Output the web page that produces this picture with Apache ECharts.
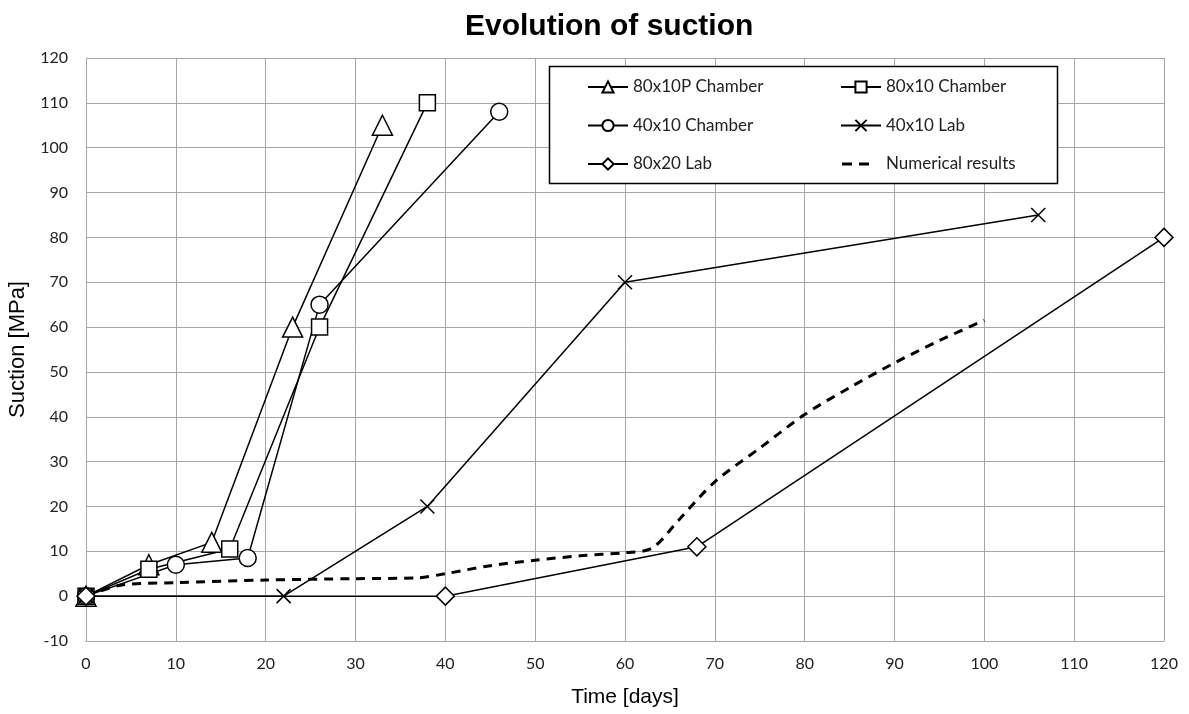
<!DOCTYPE html>
<html>
<head>
<meta charset="utf-8">
<script src="https://cdn.jsdelivr.net/npm/echarts@6/dist/echarts.min.js"></script>
<style>
  html, body { margin: 0; padding: 0; background: #fff; }
  #chart1 { width: 1189px; height: 714px; }
</style>
</head>
<body>
<div id="chart1"></div>
<script>
    // data: [time (days), suction (MPa)]
    var p80x10P = [[0, 0], [7, 7], [14, 12], [23, 60], [33, 105]];
    var p80x10 = [[0, 0], [7, 6], [16, 10.5], [26, 60], [38, 110]];
    var p40x10C = [[0, 0], [10, 7], [18, 8.5], [26, 65], [46, 108]];
    var p40x10L = [[0, 0], [22, 0], [38, 20], [60, 70], [106, 85]];
    var p80x20L = [[0, 0], [40, 0], [68, 11], [120, 80]];
    var numerical = [[0, 0], [4, 2.5], [10, 3], [20, 3.6], [30, 3.9], [37, 4.1], [40, 5],
        [45, 6.8], [50, 8], [55, 9], [60, 9.7], [63, 10.7], [66, 17], [70, 25.5], [75, 33],
        [80, 40.5], [85, 46.5], [90, 52], [95, 57], [100, 61.5]];

    var crossPath = 'path://M0,0L10,10M10,0L0,10';
    // two short dashes for the legend, with tiny corner dots so the box stays 40x14
    var dashIcon = 'path://M0,0h0.01v0.01h-0.01zM40,14h0.01v0.01h-0.01zM1,5.5h10v3h-10zM18,5.5h10v3h-10z';
    var tickFont = 'Lato, "Liberation Sans", sans-serif';
    var nameFont = '"Liberation Sans", Arial, sans-serif';

    function expSeries(name, data, symbol, size) {
        return {
            name: name,
            type: 'line',
            data: data,
            symbol: symbol,
            symbolSize: size,
            showAllSymbol: true,
            lineStyle: { color: '#000', width: 1.5 },
            itemStyle: { color: '#fff', borderColor: '#000', borderWidth: 1.5 },
            emphasis: { disabled: true },
            z: 3
        };
    }

    var legendText = { fontFamily: tickFont, fontSize: 17, color: '#222', lineHeight: 20 };

    var option = {
        animation: false,
        backgroundColor: '#fff',
        title: {
            text: 'Evolution of suction',
            left: 460,
            top: 7,
            textStyle: {
                fontFamily: nameFont,
                fontSize: 30,
                fontWeight: 'bold',
                color: '#000'
            }
        },
        grid: { left: 86, right: 25, top: 58, bottom: 73, outerBoundsMode: 'none', containLabel: false },
        legend: [{
            left: 587, top: 77,
            padding: 0,
            orient: 'vertical',
            itemGap: 18.5,
            itemWidth: 40, itemHeight: 14,
            z: 10,
            textStyle: legendText,
            data: ['80x10P Chamber', '40x10 Chamber', '80x20 Lab']
        }, {
            left: 840, top: 77,
            padding: 0,
            orient: 'vertical',
            itemGap: 18.5,
            itemWidth: 40, itemHeight: 14,
            z: 10,
            textStyle: legendText,
            data: ['80x10 Chamber', '40x10 Lab', {
                name: 'Numerical results',
                icon: dashIcon,
                itemStyle: { color: '#000', borderWidth: 0 }
            }]
        }],
        graphic: [{
            type: 'rect',
            z: 1,
            shape: { x: 549.5, y: 66.5, width: 508, height: 117 },
            style: { fill: '#fff', stroke: '#000', lineWidth: 1.5 }
        }],
        xAxis: {
            type: 'value',
            min: 0, max: 120, interval: 10,
            name: 'Time [days]',
            nameLocation: 'middle',
            nameGap: 46,
            nameTextStyle: { fontFamily: nameFont, fontSize: 21, color: '#000' },
            axisLine: { onZero: false, lineStyle: { color: '#a6a6a6' } },
            axisTick: { show: false },
            axisLabel: { fontFamily: tickFont, fontSize: 16, color: '#222', margin: 15 },
            splitLine: { show: true, lineStyle: { color: '#a6a6a6', width: 1 } }
        },
        yAxis: {
            type: 'value',
            min: -10, max: 120, interval: 10,
            name: 'Suction [MPa]',
            nameLocation: 'middle',
            nameGap: 54,
            nameTextStyle: { fontFamily: nameFont, fontSize: 22, color: '#000' },
            axisLine: { show: true, lineStyle: { color: '#a6a6a6' } },
            axisTick: { show: false },
            axisLabel: { fontFamily: tickFont, fontSize: 16, color: '#222', margin: 18 },
            splitLine: { show: true, lineStyle: { color: '#a6a6a6', width: 1 } }
        },
        series: [
            expSeries('80x10P Chamber', p80x10P, 'triangle', 20),
            expSeries('80x10 Chamber', p80x10, 'rect', 16),
            expSeries('40x10 Chamber', p40x10C, 'circle', 17),
            expSeries('40x10 Lab', p40x10L, crossPath, 14),
            expSeries('80x20 Lab', p80x20L, 'diamond', 18),
            {
                name: 'Numerical results',
                type: 'line',
                data: numerical,
                smooth: 0.3,
                symbol: 'none',
                lineStyle: { color: '#000', width: 3, type: [9, 7] },
                itemStyle: { color: '#000' },
                emphasis: { disabled: true },
                z: 2
            }
        ]
    };

    var myChart = echarts.init(document.getElementById('chart1'));
    myChart.setOption(option);
</script>
</body>
</html>
